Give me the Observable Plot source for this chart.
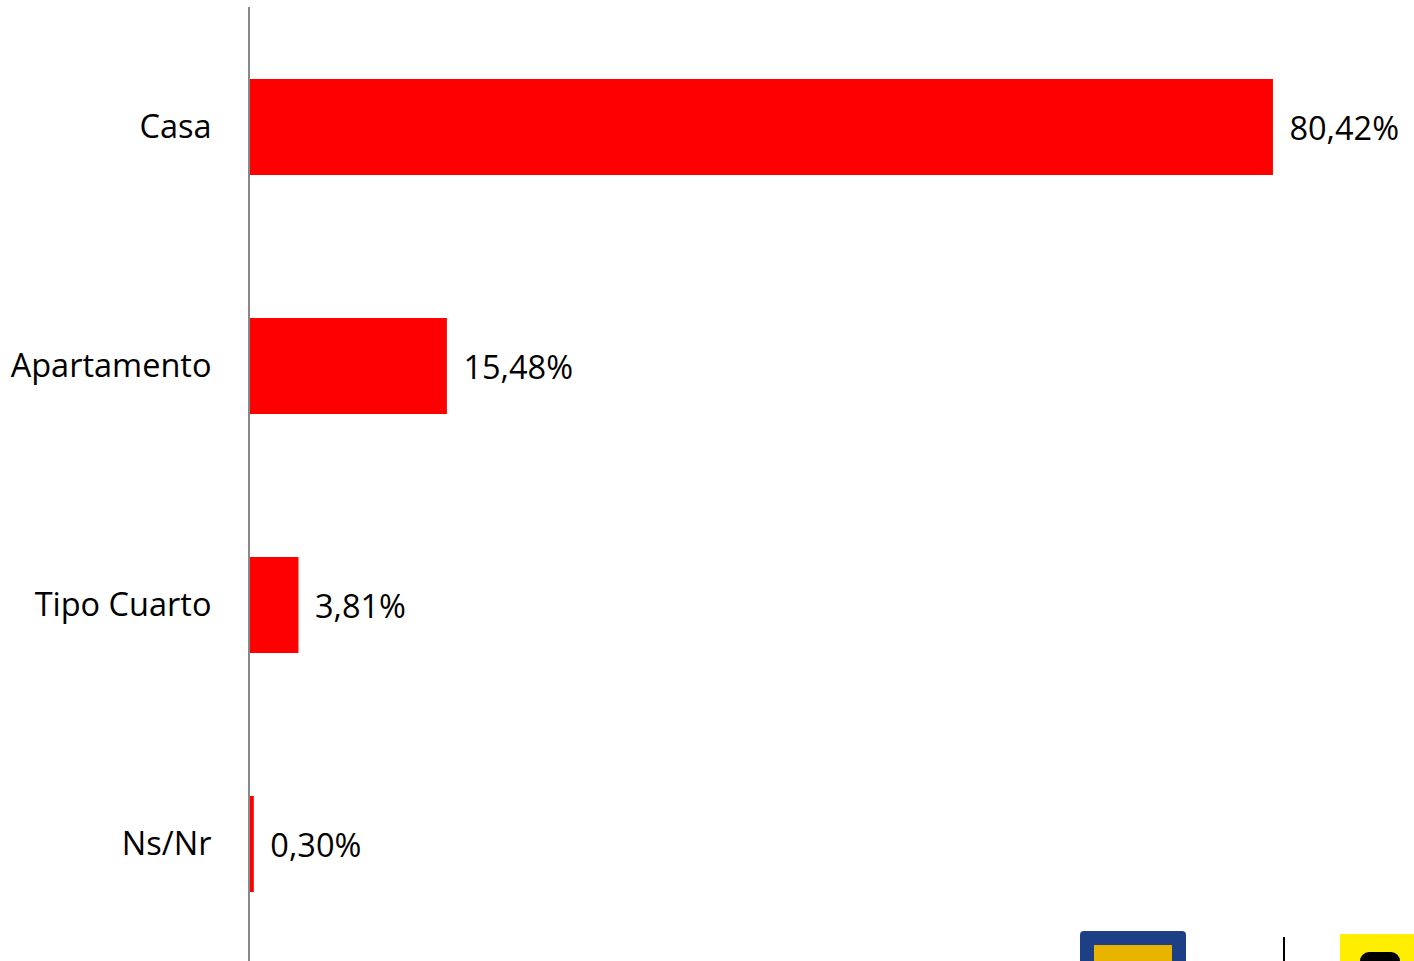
<!DOCTYPE html>
<html>
<head>
<meta charset="utf-8">
<script src="https://cdn.jsdelivr.net/npm/d3@7"></script>
<script src="https://cdn.jsdelivr.net/npm/@observablehq/plot@0.6"></script>
<style>
  html, body { margin: 0; padding: 0; background: #fff; overflow: hidden; }
  #wrap { position: relative; width: 1414px; height: 961px; }
  .logo { position: absolute; }
</style>
</head>
<body>
<div id="wrap">
  <div id="chart"></div>
  <div class="logo" style="left:1080px; top:931px; width:106px; height:30px; background:#1d3f86; border-radius:4px 4px 0 0;">
    <div style="position:absolute; left:14px; top:14px; width:78px; height:16px; background:#e8b400;"></div>
  </div>
  <div class="logo" style="left:1283px; top:937px; width:2px; height:24px; background:#000;"></div>
  <div class="logo" style="left:1340px; top:934px; width:74px; height:27px; background:#ffee00;">
    <div style="position:absolute; left:20px; top:18px; width:40px; height:9px; background:#000; border-radius:10px 10px 0 0;"></div>
  </div>
</div>
<script>
const categories = ["Casa", "Apartamento", "Tipo Cuarto", "Ns/Nr"];
const values = [80.42, 15.48, 3.81, 0.30];
const labels = ["80,42%", "15,48%", "3,81%", "0,30%"];

const data = categories.map((c, i) => ({category: c, value: values[i], label: labels[i]}));

const chart = Plot.plot({
  width: 1414,
  height: 961,
  marginLeft: 250,
  marginRight: 0,
  marginTop: 7,
  marginBottom: 0,
  style: {fontFamily: "'Open Sans', sans-serif", fontSize: "32.5px", color: "#000", background: "#fff"},
  x: {domain: [0, 100], range: [250, 250 + 100 * 12.72], axis: null},
  y: {domain: categories, range: [7, 964], paddingInner: 0.6, paddingOuter: 0.3, label: null},
  marks: [
    Plot.barX(data, {y: "category", x1: 0, x2: "value", fill: "#ff0000"}),
    Plot.text(data, {y: "category", x: "value", text: "label", textAnchor: "start", dx: 16, dy: 2, fontSize: 32.5, fill: "#000"}),
    Plot.ruleX([0], {stroke: "#888", strokeWidth: 2, dx: -1.5}),
    Plot.axisY({tickSize: 0, tickPadding: 39, fontSize: 32.5, label: null, fill: "#000"})
  ]
});
document.getElementById("chart").appendChild(chart);
</script>
</body>
</html>
